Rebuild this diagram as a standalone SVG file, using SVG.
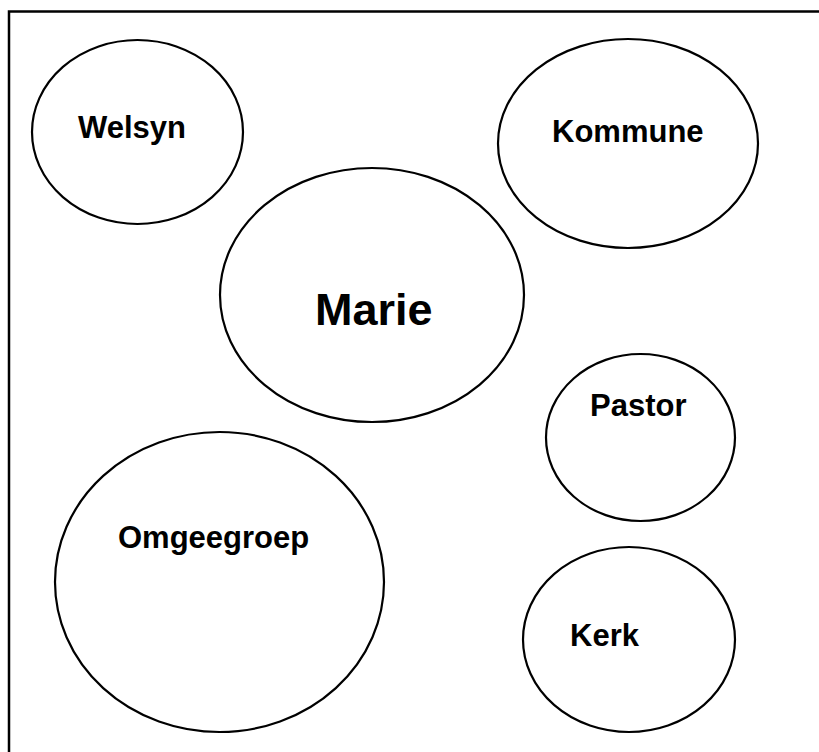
<svg xmlns="http://www.w3.org/2000/svg" width="819" height="752" viewBox="0 0 819 752">
<style>
.node ellipse{fill:none;stroke:#000;stroke-width:2.2}
.lbl{font-family:"Liberation Sans",Arial,sans-serif;font-weight:bold;font-size:31px;fill:#000}
.big{font-size:45px}
</style>
<rect x="0" y="0" width="819" height="752" fill="#fff"/>
<path id="frame" d="M9,752 V11.5 H819" fill="none" stroke="#000" stroke-width="2.5"/>
<g id="connectors"></g>
<g id="welsyn" class="node"><ellipse cx="137.5" cy="132" rx="105.5" ry="92"/><text class="lbl" x="78" y="138">Welsyn</text></g>
<g id="kommune" class="node"><ellipse cx="628" cy="143.5" rx="130" ry="104.5"/><text class="lbl" x="552" y="142">Kommune</text></g>
<g id="marie" class="node"><ellipse cx="372" cy="295" rx="152" ry="127"/><text class="lbl big" x="315" y="325">Marie</text></g>
<g id="pastor" class="node"><ellipse cx="640.5" cy="437.5" rx="94.5" ry="83.5"/><text class="lbl" x="590" y="416">Pastor</text></g>
<g id="omgeegroep" class="node"><ellipse cx="219.5" cy="582" rx="164.5" ry="150"/><text class="lbl" x="118" y="548">Omgeegroep</text></g>
<g id="kerk" class="node"><ellipse cx="629" cy="639.5" rx="106" ry="92.5"/><text class="lbl" x="570" y="646">Kerk</text></g>
</svg>
